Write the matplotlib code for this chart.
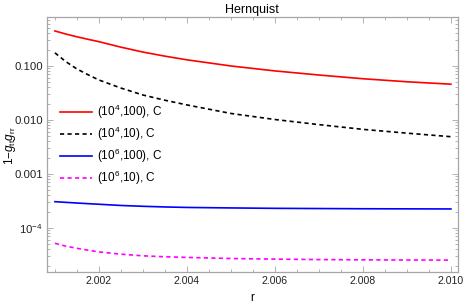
import matplotlib
matplotlib.use("Agg")
import matplotlib.pyplot as plt
from matplotlib.ticker import FixedLocator, FixedFormatter, LogLocator, NullFormatter, MultipleLocator

plt.rcParams['font.family'] = ['Liberation Sans', 'DejaVu Sans']
plt.rcParams['mathtext.fontset'] = 'custom'
plt.rcParams['mathtext.rm'] = 'Liberation Sans'
plt.rcParams['mathtext.it'] = 'Liberation Sans:italic'
plt.rcParams['mathtext.bf'] = 'Liberation Sans:bold'

r = [2.001, 2.00125, 2.0015, 2.00175, 2.002, 2.0025, 2.003, 2.0035, 2.004, 2.005, 2.006, 2.007, 2.008, 2.009, 2.010]
red_1e4_100 = [0.445, 0.39, 0.347, 0.312, 0.282, 0.223, 0.181, 0.152, 0.130, 0.100, 0.081, 0.068, 0.058, 0.051, 0.046]
black_1e4_10 = [0.175, 0.12, 0.088, 0.069, 0.055, 0.039, 0.029, 0.0232, 0.019, 0.0132, 0.0102, 0.0082, 0.0067, 0.0057, 0.0049]
blue_1e6_100 = [3.07e-4, 2.98e-4, 2.9e-4, 2.82e-4, 2.75e-4, 2.61e-4, 2.52e-4, 2.45e-4, 2.4e-4, 2.35e-4, 2.31e-4, 2.29e-4, 2.27e-4, 2.26e-4, 2.25e-4]
mag_1e6_10 = [5.2e-5, 4.6e-5, 4.2e-5, 3.88e-5, 3.6e-5, 3.27e-5, 3.05e-5, 2.93e-5, 2.85e-5, 2.72e-5, 2.65e-5, 2.6e-5, 2.57e-5, 2.55e-5, 2.54e-5]
labels = [r"(10$^4$,100), C", r"(10$^4$,10), C", r"(10$^6$,100), C", r"(10$^6$,10), C"]
x_ticks = [2.002, 2.004, 2.006, 2.008, 2.010]
x_ticklabels = ["2.002", "2.004", "2.006", "2.008", "2.010"]
y_ticks = [1e-4, 1e-3, 1e-2, 1e-1]
y_ticklabels = [r"10$^{-4}$", "0.001", "0.010", "0.100"]

fig = plt.figure(figsize=(4.63, 3.05), dpi=100)
ax = fig.add_axes([47/463, 1-272/305, (457.5-47)/463, (272-17)/305])

ax.plot(r, red_1e4_100, color='#ff0000', lw=1.2, label=labels[0])
ax.plot(r, black_1e4_10, color='black', lw=1.2, ls=(0, (2.5, 2)), label=labels[1])
ax.plot(r, blue_1e6_100, color='#0000ff', lw=1.2, label=labels[2])
ax.plot(r, mag_1e6_10, color='#ff00ff', lw=1.2, ls=(0, (2.5, 2)), label=labels[3])

ax.set_yscale('log')
ax.set_xlim(2.00082, 2.01015)
ax.set_ylim(1.53e-5, 0.807)

ax.xaxis.set_major_locator(FixedLocator(x_ticks))
ax.xaxis.set_major_formatter(FixedFormatter(x_ticklabels))
ax.xaxis.set_minor_locator(MultipleLocator(0.0005))
ax.yaxis.set_major_locator(FixedLocator(y_ticks))
ax.yaxis.set_major_formatter(FixedFormatter(y_ticklabels))
ax.yaxis.set_minor_locator(LogLocator(base=10, subs=range(2, 10)))
ax.yaxis.set_minor_formatter(NullFormatter())

frame_col = '#a6a6a6'
for s in ax.spines.values():
    s.set_color(frame_col)
    s.set_linewidth(0.9)
ax.tick_params(which='both', direction='in', top=True, right=True, colors=frame_col,
               labelcolor='#222222', labelsize=8.2, width=0.6)
ax.tick_params(axis='x', labelsize=7.6)
ax.tick_params(which='major', length=4.5, pad=3)
ax.tick_params(which='minor', length=2.5)
ax.tick_params(axis='y', which='both', labelright=False)
ax.tick_params(axis='x', which='both', labeltop=False)

ax.set_title("Hernquist", fontsize=9, pad=3)
ax.set_xlabel("r", fontsize=8.5, labelpad=4)
fig.text(10/463, 1-146/305, r"1$-g_{\rm tt}g_{\rm rr}$", fontsize=8.5, rotation=90,
         ha='center', va='center')

leg = ax.legend(loc='upper left', bbox_to_anchor=(60/463, 1-103/305), bbox_transform=fig.transFigure,
                frameon=False, fontsize=8.5, handlelength=2.7, handletextpad=0.45,
                labelspacing=0.32, borderpad=0, borderaxespad=0)

fig.savefig("out.png", dpi=100)
